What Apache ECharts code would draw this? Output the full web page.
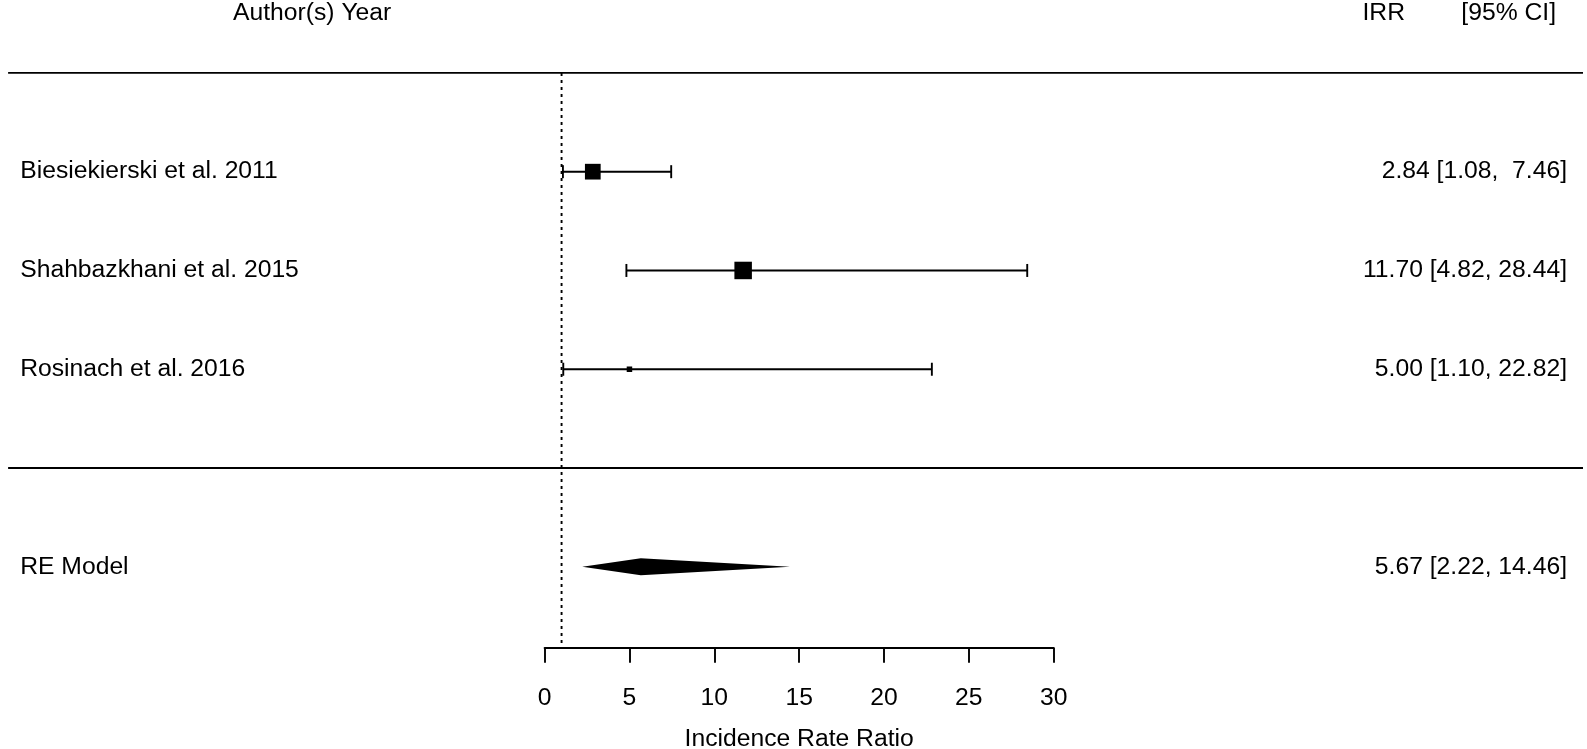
<!DOCTYPE html>
<html>
<head>
<meta charset="utf-8">
<script src="https://cdn.jsdelivr.net/npm/echarts@6/dist/echarts.min.js"></script>
<style>
  html, body { margin: 0; padding: 0; background: #fff; }
  #forest { width: 1587px; height: 749px; }
</style>
</head>
<body>
<div id="forest"></div>
<script>
let studies = ["Biesiekierski et al. 2011", "Shahbazkhani et al. 2015", "Rosinach et al. 2016"];
let irr = [2.84, 11.70, 5.00];
let ciLow = [1.08, 4.82, 1.10];
let ciHigh = [7.46, 28.44, 22.82];
let weights = [40.3, 44.2, 17.9];
let modelLabel = "RE Model";
let modelCI = [2.22, 5.67, 14.46]; // low, estimate, high
let xTicks = [0, 5, 10, 15, 20, 25, 30];
let refLine = 1;

let font = "Liberation Sans, Arial, Helvetica, sans-serif";
let fs = 24.7;
let k = studies.length;

// rows: studies from k+2 down to 3, separator at 2, model at 1
let studyRows = studies.map((s, i) => k + 2 - i);
let topRow = k + 3;
let sepRow = 2;
let modelRow = 1;
let headerRow = topRow + 0.6;

function pad(str, n) {
  while (str.length < n) str = " " + str;
  return str;
}
let hiStr = ciHigh.map(v => v.toFixed(2));
let hiW = Math.max(...hiStr.map(s => s.length));
let rightText = irr.map((v, i) => v.toFixed(2) + " [" + ciLow[i].toFixed(2) + ", " + pad(hiStr[i], hiW) + "]");
let modelText = modelCI[1].toFixed(2) + " [" + modelCI[0].toFixed(2) + ", " + modelCI[2].toFixed(2) + "]";

let wMin = Math.min(...weights), wMax = Math.max(...weights);
let lw = 1.9;
let lineStyle = { stroke: "#000", lineWidth: lw };

let forest = echarts.init(document.getElementById("forest"));

function txt(text, x, y, align) {
  return {
    type: "text",
    style: {
      text: text, x: x, y: y, align: align, verticalAlign: "middle",
      fontSize: fs, fontFamily: font, fill: "#000"
    }
  };
}

forest.setOption({
  animation: false,
  grid: { left: 544.6, right: 533.3, top: 72.9, bottom: 101.2, outerBoundsMode: "none", containLabel: false },
  xAxis: {
    type: "value",
    min: xTicks[0],
    max: xTicks[xTicks.length - 1],
    interval: xTicks[1] - xTicks[0],
    name: "Incidence Rate Ratio",
    nameLocation: "middle",
    nameGap: 79,
    nameTextStyle: { color: "#000", fontSize: fs, fontFamily: font },
    axisLine: { lineStyle: { color: "#000", width: lw } },
    axisTick: { length: 15, lineStyle: { color: "#000", width: lw } },
    axisLabel: { color: "#000", fontSize: fs, fontFamily: font, margin: 38 },
    splitLine: { show: false }
  },
  yAxis: { type: "value", min: 0.18, max: topRow, show: false, splitLine: { show: false } },
  series: [
    {
      // separators
      type: "custom",
      data: [[0, topRow], [0, sepRow]],
      renderItem: function (params, api) {
        let y = api.coord([0, api.value(1)])[1];
        return { type: "line", shape: { x1: 8.1, y1: y, x2: 1583, y2: y }, style: lineStyle };
      }
    },
    {
      // reference line
      type: "custom",
      data: [[refLine, topRow, 0.22]],
      renderItem: function (params, api) {
        let a = api.coord([api.value(0), api.value(1)]);
        let b = api.coord([api.value(0), api.value(2)]);
        return {
          type: "line",
          shape: { x1: a[0], y1: a[1], x2: b[0], y2: b[1] },
          style: { stroke: "#000", lineWidth: lw, lineDash: [3, 4] }
        };
      }
    },
    {
      // studies
      type: "custom",
      data: studies.map((s, i) => [studyRows[i], ciLow[i], irr[i], ciHigh[i], weights[i]]),
      renderItem: function (params, api) {
        let row = api.value(0);
        let lo = api.coord([api.value(1), row]);
        let est = api.coord([api.value(2), row]);
        let hi = api.coord([api.value(3), row]);
        let size = 5.5 + (api.value(4) - wMin) / (wMax - wMin) * 12;
        let cap = 6.5;
        return {
          type: "group",
          children: [
            { type: "line", shape: { x1: lo[0], y1: lo[1], x2: hi[0], y2: hi[1] }, style: lineStyle },
            { type: "line", shape: { x1: lo[0], y1: lo[1] - cap, x2: lo[0], y2: lo[1] + cap }, style: lineStyle },
            { type: "line", shape: { x1: hi[0], y1: hi[1] - cap, x2: hi[0], y2: hi[1] + cap }, style: lineStyle },
            { type: "rect", shape: { x: est[0] - size / 2, y: est[1] - size / 2, width: size, height: size }, style: { fill: "#000" } }
          ]
        };
      }
    },
    {
      // summary diamond
      type: "custom",
      data: [[modelRow, modelCI[0], modelCI[1], modelCI[2]]],
      renderItem: function (params, api) {
        let row = api.value(0);
        let lo = api.coord([api.value(1), row]);
        let est = api.coord([api.value(2), row]);
        let hi = api.coord([api.value(3), row]);
        let h = 8.5;
        return {
          type: "polygon",
          shape: { points: [lo, [est[0], est[1] - h], hi, [est[0], est[1] + h]] },
          style: { fill: "#000" }
        };
      }
    },
    {
      // text columns
      type: "custom",
      data: studies.map((s, i) => [0, studyRows[i]]).concat([[0, modelRow], [0, headerRow]]),
      renderItem: function (params, api) {
        let y = api.coord([0, api.value(1)])[1];
        let i = params.dataIndex;
        if (i < k) {
          return { type: "group", children: [txt(studies[i], 20.2, y, "left"), txt(rightText[i], 1567, y, "right")] };
        }
        if (i === k) {
          return { type: "group", children: [txt(modelLabel, 20.2, y, "left"), txt(modelText, 1567, y, "right")] };
        }
        return {
          type: "group",
          children: [
            txt("Author(s) Year", 233, y, "left"),
            txt("IRR", 1405, y, "right"),
            txt("[95% CI]", 1556, y, "right")
          ]
        };
      }
    }
  ]
});
</script>
</body>
</html>
